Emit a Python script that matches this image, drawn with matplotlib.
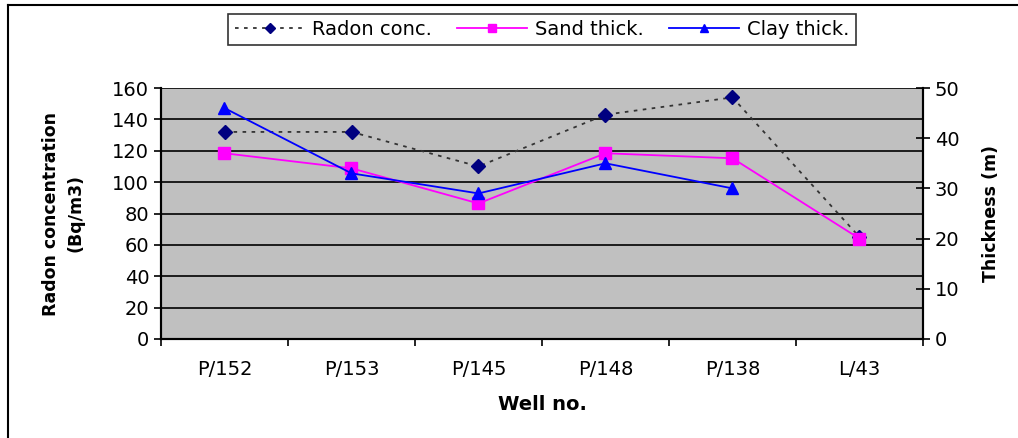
import numpy as np
import matplotlib
matplotlib.use('Agg')
from matplotlib import pyplot as plt
from matplotlib.lines import Line2D

plt.rcParams['font.family'] = ['DejaVu Sans']

wells = ['P/152', 'P/153', 'P/145', 'P/148', 'P/138', 'L/43']
radon = [132, 132, 110, 143, 154, 65]
sand = [37, 34, 27, 37, 36, 20]
clay = [46, 33, 29, 35, 30, np.nan]

fig = plt.figure(figsize=(10.18, 4.38), dpi=100)
ax = fig.add_axes([161/1018, 1-339/438, (923-161)/1018, (339-88)/438])
ax2 = ax.twinx()

x = np.arange(len(wells))
ax.set_facecolor('#C0C0C0')
ax.set_xlim(-0.5, len(wells)-0.5)
ax.set_ylim(0, 160)
ax.set_yticks(np.arange(0, 161, 20))
ax.grid(axis='y', color='black', lw=1.2)
ax.set_axisbelow(True)

l1, = ax.plot(x, radon, ls=(0, (2, 3)), color='#333333', lw=1.3, marker='D',
              ms=7, mfc='#000080', mec='#000080', label='Radon conc.', zorder=3)
l2, = ax2.plot(x, sand, color='#FF00FF', lw=1.3, marker='s', ms=8,
               mfc='#FF00FF', mec='#FF00FF', label='Sand thick.', zorder=3)
l3, = ax2.plot(x, clay, color='#0000FF', lw=1.3, marker='^', ms=9,
               mfc='#0000FF', mec='#0000FF', label='Clay thick.', zorder=3)
ax2.set_ylim(0, 50)
ax2.set_yticks(np.arange(0, 51, 10))

ax.set_xticks(x)
ax.set_xticklabels(wells)
ax.set_xticks(np.arange(-0.5, len(wells), 1), minor=True)
ax.tick_params(axis='x', which='major', length=0, pad=15, labelsize=14)
ax.tick_params(axis='x', which='minor', length=5, direction='out', width=1.2)
ax.tick_params(axis='y', labelsize=14, length=5, width=1.2)
ax2.tick_params(axis='y', labelsize=14, length=10, width=1.2, direction='inout')

for a in (ax, ax2):
    a.spines['top'].set_visible(False)
    for s in ('left', 'right', 'bottom'):
        a.spines[s].set_linewidth(1.5)

ax.set_xlabel('Well no.', fontsize=14, fontweight='bold', labelpad=12)
ax.set_ylabel('Radon concentration\n(Bq/m3)', fontsize=12.5, fontweight='bold',
              labelpad=20, linespacing=1.45)
ax2.set_ylabel('Thickness (m)', fontsize=12.5, fontweight='bold', labelpad=16)

leg = fig.legend(handles=[l1, l2, l3], loc='upper center',
                 bbox_to_anchor=(542/1018, 1-14/438), ncol=3, fontsize=14,
                 frameon=True, fancybox=False, edgecolor='black',
                 handlelength=3.6, handletextpad=0.4, columnspacing=1.3,
                 borderpad=0.32, borderaxespad=0, markerscale=0.7)
leg.get_frame().set_linewidth(1.2)

# outer chart border
fig.add_artist(Line2D([8/1018, 8/1018], [0, 1-5/438], color='black', lw=1.5))
fig.add_artist(Line2D([8/1018, 1], [1-5/438, 1-5/438], color='black', lw=1.5))

fig.savefig('out.png', dpi=100)
